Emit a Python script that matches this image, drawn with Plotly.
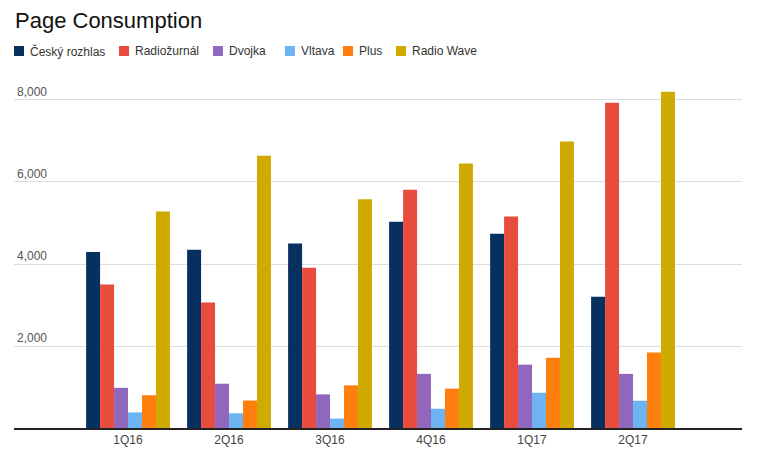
import plotly.graph_objects as go

categories = ["1Q16", "2Q16", "3Q16", "4Q16", "1Q17", "2Q17"]
cesky_rozhlas = [4290, 4350, 4500, 5030, 4740, 3200]
radiozurnal = [3500, 3060, 3910, 5810, 5160, 7930]
dvojka = [980, 1080, 820, 1320, 1545, 1320]
vltava = [380, 360, 230, 470, 860, 665]
plus = [800, 670, 1040, 960, 1715, 1840]
radio_wave = [5280, 6640, 5580, 6450, 6985, 8200]

series_names = ["Český rozhlas", "Radiožurnál", "Dvojka", "Vltava", "Plus", "Radio Wave"]
series_values = [cesky_rozhlas, radiozurnal, dvojka, vltava, plus, radio_wave]
series_colors = ["#06305F", "#E84C3D", "#9166BD", "#6DB5F2", "#FF7F0E", "#CFAA00"]

W, H = 760, 465
L, R, T, B = 6, 26, 76, 45
PW, PH = W - L - R, H - T - B

def px2x(px):
    return (px - L) / PW

def py2y(py):
    return (H - B - py) / PH

fig = go.Figure()
for name, vals, color in zip(series_names, series_values, series_colors):
    fig.add_trace(go.Bar(x=categories, y=vals, name=name,
                         marker=dict(color=color, line=dict(width=0))))

# compact legend drawn like the original (square + label)
legend_left = [6, 111, 205, 277, 335, 388]
shapes, annotations = [], []
for lx, name, color in zip(legend_left, series_names, series_colors):
    shapes.append(dict(type="rect", xref="paper", yref="paper",
                       x0=px2x(lx), x1=px2x(lx + 10), y0=py2y(48), y1=py2y(38),
                       fillcolor=color, line=dict(width=0)))
    annotations.append(dict(text=name, xref="paper", yref="paper",
                            x=px2x(lx + 14), y=py2y(43), xanchor="left", yanchor="middle",
                            showarrow=False, font=dict(size=12, color="#333")))

fig.update_layout(
    width=W, height=H,
    paper_bgcolor="white", plot_bgcolor="white",
    font=dict(family="Arial, Liberation Sans, sans-serif", size=12, color="#444"),
    title=dict(text="Page Consumption", x=7 / W, xanchor="left", xref="container",
               y=1 - 12 / H, yanchor="middle", yref="container",
               font=dict(size=22, color="#111")),
    margin=dict(l=L, r=R, t=T, b=B, autoexpand=False),
    barmode="group", bargap=0.17, bargroupgap=0,
    showlegend=False,
    shapes=shapes, annotations=annotations,
)
fig.update_xaxes(type="category", range=[-1.129, 6.079], showline=True, linecolor="#222", linewidth=1.5,
                 ticks="", tickfont=dict(size=12, color="#444"), showgrid=False)
fig.update_yaxes(range=[0, 8390], tickvals=[0, 2000, 4000, 6000, 8000],
                 ticktext=["", "2,000", "4,000", "6,000", "8,000"],
                 ticklabelposition="inside top", showgrid=True, gridcolor="#dddddd", gridwidth=1,
                 zeroline=False, tickfont=dict(size=12, color="#555"), showline=False)
fig.write_html("out.html")
